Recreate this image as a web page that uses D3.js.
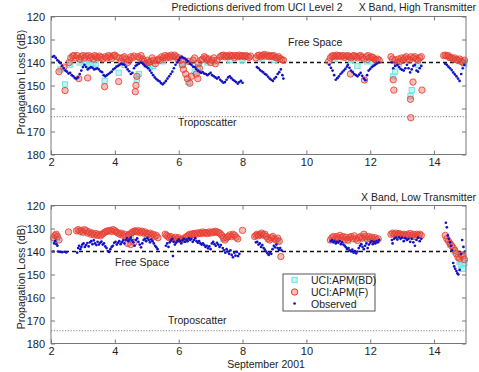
<!DOCTYPE html>
<html><head><meta charset="utf-8">
<script src="https://cdn.jsdelivr.net/npm/d3@7/dist/d3.min.js"></script>
<style>
html,body{margin:0;padding:0;background:#fff;}
svg text{font-family:Arial,"Liberation Sans",Helvetica,sans-serif;fill:#222;}
</style></head>
<body><svg id="c" width="479" height="372"></svg>
<script>
// ---------- DATA ----------
const xTicks = [2,4,6,8,10,12,14];
const yTicks = [120,130,140,150,160,170,180];
const seriesNames = ["UCI:APM(BD)","UCI:APM(F)","Observed"];
const titleMain = "Predictions derived from UCI Level 2";
const titleHigh = "X Band, High Transmitter";
const titleLow = "X Band, Low Transmitter";
const xLabel = "September 2001";
const yLabel = "Propagation Loss (dB)";
const freeSpaceLevel = [140, 140];
const tropoLevel = [163.5, 174.4];

const obsHigh = [[2.05,137.5],[2.1,137.2],[2.15,138],[2.2,139],[2.25,139.6],[2.3,140.3],[2.35,141.5],[2.4,142.5],[2.45,143.5],[2.5,144],[2.55,144.8],[2.6,144.5],[2.65,145.5],[2.7,146],[2.75,146.8],[2.8,147],[2.85,146.5],[2.9,145],[2.95,143.5],[3.0,142],[3.05,141],[3.1,142],[3.15,143],[3.2,142.5],[3.25,142],[3.3,142.3],[3.35,143],[3.4,142.8],[3.45,142.5],[3.5,143],[3.55,143.8],[3.6,144.2],[3.65,145.5],[3.7,146],[3.75,145.5],[3.8,145],[3.85,144.5],[3.9,144],[3.95,143],[4.0,142.5],[4.05,141.8],[4.1,141.5],[4.15,141],[4.2,140.5],[4.25,140.8],[4.3,141],[4.35,142],[4.4,143],[4.45,143.8],[4.5,145],[4.55,144.5],[4.6,142.5],[4.65,141.5],[4.7,141],[4.75,140.5],[4.8,140],[4.85,140.2],[4.9,140.8],[4.95,141.5],[5.0,142],[5.05,142.5],[5.1,143.5],[5.15,144.5],[5.2,145.5],[5.25,146.5],[5.3,147.2],[5.35,147.8],[5.4,148.2],[5.45,149],[5.5,149.5],[5.55,148.8],[5.6,148],[5.65,147],[5.7,146],[5.75,145],[5.8,144],[5.85,142.5],[5.9,141],[5.95,140],[6.0,139],[6.05,138],[6.1,137.5],[6.15,138],[6.2,138.3],[6.25,139],[6.3,139.5],[6.35,140.5],[6.4,141],[6.45,141.8],[6.5,142],[6.55,142.8],[6.6,143.5],[6.65,144],[6.7,144.5],[6.75,144.2],[6.8,144.8],[6.85,145],[6.9,145.5],[6.95,145],[7.0,144.5],[7.05,145.5],[7.1,146],[7.15,146.5],[7.2,147],[7.25,146.5],[7.3,147.5],[7.35,148.2],[7.4,148.8],[7.45,148.5],[7.5,147.5],[7.55,146.5],[7.6,146],[7.65,146.8],[7.7,147.5],[7.75,148],[7.8,148.5],[7.85,149.2],[7.9,148.5],[7.95,148],[8.0,148.8],
[8.45,142],[8.5,142.5],[8.55,143.3],[8.6,143.8],[8.65,144.3],[8.7,145],[8.75,145.4],[8.8,146.2],[8.85,147],[8.9,147.5],[8.95,148],[9.0,147],[9.05,146.3],[9.1,145],[9.15,144.2],[9.2,143],[9.25,145.5],[9.28,147],
[10.72,141],[10.77,142.3],[10.82,143.5],[10.87,145.5],[10.92,147.5],[10.97,146.8],[11.02,146],[11.07,145],[11.12,144.3],[11.17,143.5],[11.22,142.8],[11.27,141.8],[11.3,141],[11.35,142.3],[11.4,143.5],[11.45,144.2],[11.5,145],[11.55,145.5],[11.6,146],[11.65,145.3],[11.7,144.5],[11.75,145.8],[11.8,147],[11.85,147.7],[11.9,145.5],[11.95,143.5],[12.0,142.8],[12.05,142],[12.1,141.5],[12.15,141],[12.2,140.5],[12.27,140],
[12.68,140],[12.72,142.5],[12.78,141.5],[12.85,141],[12.9,142],[12.95,142.8],[13.0,143.2],[13.05,143.5],[13.1,142.5],[13.15,141],[13.2,142.5],[13.25,144.3],[13.3,143],[13.35,141.5],[13.4,141],[13.45,143.5],[13.5,144],[13.55,142.5],[13.6,141.5],
[14.35,140.5],[14.4,141],[14.45,141.8],[14.5,142.5],[14.55,143.3],[14.6,144.3],[14.65,145.2],[14.7,146],[14.75,147],[14.8,148],[14.85,145],[14.9,142.5],[14.95,141]];

const apmFHigh = [[2.25,144],[2.44,152.2],[2.4,142],[2.57,140],[2.62,138],[2.68,137.2],[2.72,137],[2.78,138],[2.82,137],[2.87,147],[2.9,138.5],[2.95,137.5],[3.0,137],[3.05,138],[3.1,137.2],[3.15,146.7],[3.18,137],[3.22,138],[3.27,137.5],[3.32,138.5],[3.37,137],[3.42,137.5],[3.47,138],[3.52,137.2],[3.57,137.8],[3.62,138.5],[3.68,150.5],[3.7,137.5],[3.75,138],[3.8,137],[3.85,137.5],[3.9,138.2],[3.95,137],[4.0,136.8],[4.05,137.5],[4.12,148.3],[4.15,138],[4.2,139.5],[4.25,138],[4.3,137.5],[4.35,138.5],[4.4,140],[4.45,139],[4.5,137.5],[4.55,138],[4.6,137.2],[4.64,152.7],[4.66,150],[4.69,146],[4.72,137.5],[4.78,138],[4.82,137],[4.87,138.5],[4.92,139.5],[4.97,140.5],[5.02,139],[5.07,140],[5.12,139.5],[5.17,138],[5.22,139],[5.27,140.5],[5.32,139],[5.37,138.5],[5.42,139],[5.47,137.5],[5.52,138],[5.57,137],[5.62,138],[5.67,137.2],[5.72,137.8],[5.77,136.8],[5.82,137.5],[5.87,136.8],[5.92,137.5],[5.97,138.5],[6.02,138],[6.07,139],[6.12,141],[6.15,143],[6.22,145],[6.27,147],[6.3,139.5],[6.35,149],[6.4,146],[6.45,139],[6.5,138],[6.55,145],[6.6,147],[6.62,140.5],[6.65,142.5],[6.7,139],[6.75,138.5],[6.8,137.5],[6.85,138],[6.9,139],[6.95,138.5],[7.0,140],[7.05,139],[7.1,138],[7.15,140.5],[7.2,139],[7.3,137.5],[7.35,137],[7.4,136.8],[7.45,137.5],[7.5,137],[7.55,137.5],[7.6,136.8],[7.65,137.2],[7.7,137],[7.75,137.8],[7.8,137],[7.85,137.5],[7.9,136.8],[7.95,137.2],[8.0,137],[8.05,137.5],[8.1,137],[8.15,137.3],[8.2,137.8],[8.25,137.2],
[8.42,138],[8.48,137],[8.53,136.8],[8.58,137.5],[8.63,137],[8.68,136.5],[8.73,137.2],[8.78,136.8],[8.83,137.5],[8.88,137],[8.93,137.3],[8.98,137],[9.03,137.8],[9.08,138],[9.13,137.5],[9.18,138.3],[9.23,138.8],[9.28,139],
[10.7,139.5],[10.75,138],[10.8,137.2],[10.85,137],[10.9,137.5],[10.95,136.8],[11.0,137.2],[11.05,137],[11.1,137.5],[11.15,137],[11.2,137.8],[11.25,137.2],[11.3,137],[11.35,137.5],[11.38,145],[11.4,138],[11.45,137.2],[11.5,137],[11.55,137.5],[11.6,138],[11.65,137.2],[11.7,137],[11.75,137.8],[11.8,138.5],[11.82,147.6],[11.88,137.5],[11.93,137],[11.98,138],[12.03,137.5],[12.08,137.8],[12.13,138.5],[12.18,139],[12.23,138.5],[12.28,139],
[12.65,137.5],[12.7,138.5],[12.72,147.5],[12.74,152],[12.78,139],[12.83,140],[12.88,138.5],[12.93,139.5],[12.98,138],[13.03,139],[13.08,138],[13.13,137.5],[13.18,138.5],[13.23,139],[13.26,156],[13.27,164],[13.28,137.5],[13.34,148.5],[13.35,138],[13.4,137.5],[13.45,138.5],[13.5,139],[13.55,138],[13.6,137.5],[13.62,152],
[14.3,137],[14.35,136.8],[14.4,137.2],[14.45,137],[14.5,137.8],[14.55,138],[14.6,138.5],[14.65,138],[14.7,138.8],[14.75,139],[14.8,138.5],[14.85,139.5],[14.9,140],[14.95,139]];

const apmBDHigh = [[2.44,149.5],[2.3,143],[2.6,141],[2.9,140],[3.1,140.5],[3.2,141],[3.3,140.8],[3.4,140.5],[3.68,148],[4.12,144.5],[4.3,141],[4.69,147.5],[4.75,145],[5.0,141],[5.1,142],[5.2,141.5],[5.5,139.5],[6.1,141],[6.3,148.5],[6.5,144],[6.6,142],[6.9,140],[7.1,139.5],[7.6,139],[8.0,139],[8.6,138.5],[9.0,139],[10.9,138.5],[11.4,139],[11.6,141.5],[11.9,139.5],[12.1,140],[12.72,146],[12.78,144],[12.9,140.5],[13.26,154.6],[13.3,152],[13.5,141],[14.5,138],[14.8,139.5],[14.9,139.5],[14.95,140.5]];

const obsLow = [[2.07,140],[2.1,136.5],[2.13,135.5],[2.17,136.8],[2.2,137.5],[2.22,140],[2.28,140.2],[2.35,140.3],[2.42,140.1],[2.48,140.4],[2.82,140.5],[2.85,138.5],[2.88,137.5],[2.92,139],[2.95,138],[2.98,137],[3.02,136.5],[3.06,138],[3.1,137.2],[3.14,136.3],[3.18,137.8],[3.22,136],[3.26,135.5],[3.3,136.8],[3.34,135.2],[3.38,136.5],[3.42,137.2],[3.46,135.8],[3.5,137],[3.54,136.2],[3.58,135.7],[3.62,137],[3.66,136.5],[3.7,137.8],[3.74,138.5],[3.78,139.8],[3.82,140.2],[3.86,139],[3.9,138],[3.94,137.5],[3.98,136.2],[4.02,135.8],[4.06,137],[4.1,136.2],[4.14,135.5],[4.18,136.8],[4.22,136],[4.26,135.2],[4.3,136.5],[4.34,135],[4.38,134.3],[4.42,135.5],[4.46,134.8],[4.5,134],[4.54,135.2],[4.58,136],[4.62,137.5],[4.66,135],[4.7,134.3],[4.74,135.8],[4.78,137],[4.82,138.2],[4.86,136.5],[4.9,135],[4.94,134.5],[4.98,135.5],[5.02,134.2],[5.06,135],[5.1,136],[5.14,134.8],[5.18,135.5],[5.22,136.5],[5.26,137.5],[5.3,138.2],[5.34,139],[5.6,137.5],[5.64,136.5],[5.68,138],[5.72,136],[5.76,135.2],[5.8,134.5],[5.82,142],[5.84,135.8],[5.88,137],[5.92,136.2],[5.96,135.5],[6.0,134.8],[6.04,135.5],[6.08,136.5],[6.12,135.2],[6.16,134.5],[6.2,135.8],[6.24,134.8],[6.28,135.5],[6.32,134.3],[6.36,135],[6.4,134.5],[6.44,135.8],[6.48,135],[6.52,134.2],[6.56,135.5],[6.6,136.2],[6.64,135.5],[6.68,136.5],[6.72,137],[6.76,136.5],[6.8,137.2],[6.84,138],[6.88,137.5],[6.92,138.6],[6.96,137.8],[7.0,139],[7.04,136.5],[7.08,135.8],[7.12,136.8],[7.16,137.5],[7.2,136.2],[7.24,137],[7.28,138],[7.32,137.2],[7.38,138.5],[7.42,139.5],[7.46,140.5],[7.5,139],[7.54,140],[7.58,141],[7.62,139.5],[7.66,141.5],[7.7,142.5],[7.74,140.5],[7.78,141.8],[7.82,140.2],[7.86,142],[7.9,141],
[8.42,136],[8.46,135.8],[8.5,137],[8.54,136.5],[8.58,138],[8.62,137.2],[8.66,138.5],[8.7,139.2],[8.74,140],[8.78,140.8],[8.82,141.5],[8.86,140.5],[8.9,141],[8.94,139],[8.98,137.5],[9.02,138.2],[9.06,137],[9.1,138.5],[9.14,139.3],[9.18,138.5],[9.22,139.5],
[10.76,135.5],[10.8,135],[10.84,136],[10.88,135.5],[10.92,136.5],[10.96,135.8],[11.0,136.2],[11.04,135.5],[11.08,136.8],[11.12,136],[11.16,137],[11.2,137.5],[11.24,138.2],[11.28,139],[11.32,138.5],[11.36,139.5],[11.4,140],[11.44,139.2],[11.48,140.5],[11.52,139.8],[11.56,140.8],[11.6,140],[11.64,138.5],[11.68,137.5],[11.72,136.8],[11.76,138],[11.8,139],[11.84,137.5],[11.88,136.5],[11.92,138.5],[11.96,137],[12.0,136.2],[12.04,135.5],[12.08,136.8],[12.12,135.8],[12.16,136.5],[12.2,135.5],[12.24,136],[12.28,135],
[12.68,135],[12.7,136.5],[12.75,134.5],[12.8,134],[12.85,134.8],[12.9,133.8],[12.95,134.5],[13.0,134],[13.05,135.5],[13.1,134.2],[13.15,135],[13.2,134.5],[13.25,135.8],[13.3,134.5],[13.35,136],[13.4,137.5],[13.45,135],[13.5,134],[13.55,135.5],[13.6,134.5],
[14.37,127.5],[14.4,129.5],[14.43,133],[14.46,134.5],[14.5,136],[14.53,137.5],[14.56,139.5],[14.6,145],[14.63,146.5],[14.66,147.5],[14.7,148.5],[14.73,149.5],[14.76,150],[14.8,148],[14.85,141],[14.88,135],[14.92,138],[14.96,140]];

const apmFLow = [[2.08,134],[2.12,133],[2.16,132.5],[2.2,133.5],[2.25,135],[2.55,131.5],[2.8,131],[2.85,130.5],[2.9,131.2],[2.95,130.8],[3.0,131.5],[3.05,130.5],[3.1,131],[3.15,132],[3.2,131.5],[3.25,132.5],[3.3,132],[3.35,132.8],[3.4,132.2],[3.45,133],[3.5,132.5],[3.55,133.2],[3.6,132.5],[3.65,132],[3.7,131.5],[3.75,131.2],[3.8,131],[3.85,130.8],[3.9,131.3],[3.95,130.5],[4.0,131],[4.05,131.5],[4.1,132],[4.15,132.5],[4.2,132],[4.25,133],[4.3,132.5],[4.35,133.5],[4.4,136.5],[4.42,133],[4.45,132.5],[4.5,137],[4.52,132],[4.55,131.5],[4.6,136],[4.62,131.2],[4.65,131],[4.7,131.5],[4.75,131],[4.8,131.8],[4.85,131.2],[4.9,132],[4.95,131.5],[5.0,132.2],[5.05,132.5],[5.1,132],[5.15,133],[5.2,132.5],[5.25,133.5],[5.3,133],[5.35,134],[5.58,132.5],[5.62,133],[5.66,133.5],[5.7,134],[5.75,133.5],[5.8,134.2],[5.85,134.5],[5.9,133.8],[5.95,134.5],[6.0,134],[6.05,134.8],[6.1,135],[6.15,134.5],[6.2,134],[6.25,133.5],[6.3,133],[6.35,132.5],[6.4,132.8],[6.45,132.2],[6.5,132.5],[6.55,132],[6.6,132.3],[6.65,131.8],[6.7,132.2],[6.75,131.5],[6.8,132],[6.85,131.8],[6.9,132.2],[6.95,131.5],[7.0,132],[7.05,131.5],[7.1,131.8],[7.15,131.2],[7.2,131.5],[7.25,131.8],[7.3,132.2],[7.35,133],[7.4,134],[7.45,135],[7.5,134],[7.55,133.5],[7.6,132.8],[7.65,133.5],[7.7,132.5],[7.75,133],[7.8,133.8],[7.85,134.5],[8.0,130.8],
[8.38,133.5],[8.42,133],[8.46,132.5],[8.5,133.2],[8.55,132.5],[8.6,132],[8.65,132.8],[8.7,132.5],[8.75,133.5],[8.8,134.5],[8.85,135],[8.9,134],[8.95,133.5],[9.0,134.5],[9.05,135],[9.1,134.2],[9.15,135.5],[9.2,142.2],
[10.75,135],[10.8,134],[10.85,133.5],[10.9,134.5],[10.95,133.5],[11.0,134.2],[11.05,133],[11.1,134],[11.15,133.5],[11.2,134.8],[11.25,133.8],[11.3,135],[11.35,134],[11.4,133.5],[11.45,134.5],[11.5,133.2],[11.55,134.5],[11.6,135.2],[11.65,134],[11.7,133.5],[11.75,134.2],[11.8,132.5],[11.85,133.5],[11.9,134.5],[11.95,133.5],[12.0,134.5],[12.05,133.8],[12.1,134.8],[12.15,134],[12.2,135],[12.25,134.5],
[12.65,132.5],[12.7,132],[12.75,132.5],[12.8,132],[12.85,132.8],[12.9,132.2],[12.95,132.5],[13.0,133],[13.05,132.5],[13.1,133.2],[13.15,132.5],[13.2,133],[13.25,132.2],[13.3,133],[13.35,132.5],[13.4,133.5],[13.45,132.5],[13.5,133],[13.55,132.5],[13.6,133],
[14.35,133],[14.4,134.5],[14.45,135.5],[14.5,136.5],[14.55,137.5],[14.6,138.5],[14.65,139.5],[14.7,141],[14.75,142.5],[14.8,143],[14.85,141.5],[14.9,142],[14.95,143.5]];

const apmBDLow = [[2.1,135],[2.2,134],[3.0,132],[4.5,134],[5.0,133.5],[6.2,135],[7.4,134.5],[8.6,133],[9.1,135.5],[11.3,135.5],[11.8,134],[12.9,133],[13.4,133.5],[14.5,137],[14.65,140],[14.8,144.5],[14.85,146],[14.9,147.5],[14.95,145]];

// ---------- STYLE ----------
const FONT = 'Arial,"Liberation Sans",Helvetica,sans-serif';
const cBD = {stroke:"#6fe3e3", fill:"rgba(150,240,240,0.6)"};
const cF = {stroke:"#e63a2c", fill:"rgba(236,80,70,0.38)"};
const cObs = "#1212c4";

const svg = d3.select("#c");
const x = d3.scaleLinear().domain([2,15]).range([51,466]);

const panels = [
  {top:16.5, bottom:154.5, obs:obsHigh, f:apmFHigh, bd:apmBDHigh, fs:freeSpaceLevel[0], tropo:tropoLevel[0],
   title:titleHigh, titleY:11, fsLabel:[288,46], trLabel:[178,126], yLabelY:82},
  {top:205.5, bottom:343.5, obs:obsLow, f:apmFLow, bd:apmBDLow, fs:freeSpaceLevel[1], tropo:tropoLevel[1],
   title:titleLow, titleY:201, fsLabel:[115,266], trLabel:[168,324], yLabelY:277}
];

panels.forEach((p,i) => {
  const y = d3.scaleLinear().domain([120,180]).range([p.top,p.bottom]);
  const g = svg.append("g");

  // reference lines
  g.append("line").attr("x1",x(2)).attr("x2",x(15)).attr("y1",y(p.fs)).attr("y2",y(p.fs))
    .attr("stroke","#111").attr("stroke-width",1.3).attr("stroke-dasharray","4,3");
  g.append("line").attr("x1",x(2)).attr("x2",x(15)).attr("y1",y(p.tropo)).attr("y2",y(p.tropo))
    .attr("stroke","#999").attr("stroke-width",1.2).attr("stroke-dasharray","1.2,1.6");

  // BD markers (squares)
  g.selectAll(".bd").data(p.bd).join("rect")
    .attr("x",d=>x(d[0])-2.6).attr("y",d=>y(d[1])-2.6).attr("width",5.2).attr("height",5.2)
    .attr("fill",cBD.fill).attr("stroke",cBD.stroke).attr("stroke-width",1);
  // F markers (circles)
  g.selectAll(".f").data(p.f).join("circle")
    .attr("cx",d=>x(d[0])).attr("cy",d=>y(d[1])).attr("r",3.2)
    .attr("fill",cF.fill).attr("stroke",cF.stroke).attr("stroke-opacity",0.8).attr("stroke-width",1);
  // Observed dots
  g.selectAll(".o").data(p.obs).join("circle")
    .attr("cx",d=>x(d[0])).attr("cy",d=>y(d[1])).attr("r",1.35)
    .attr("fill",cObs);

  // axes box
  g.append("rect").attr("x",x(2)).attr("y",p.top).attr("width",x(15)-x(2)).attr("height",p.bottom-p.top)
    .attr("fill","none").attr("stroke","#777").attr("stroke-width",1);

  const styleAxis = sel => {
    sel.select(".domain").remove();
    sel.selectAll(".tick line").attr("stroke","#777");
    sel.selectAll(".tick text").attr("font-family",FONT).attr("font-size",11).attr("fill","#222");
  };
  g.append("g").attr("transform",`translate(0,${p.bottom})`)
    .call(d3.axisBottom(x).tickValues(xTicks).tickSizeInner(-4).tickSizeOuter(0).tickPadding(4).tickFormat(d3.format("d")))
    .call(styleAxis);
  g.append("g").attr("transform",`translate(0,${p.top})`)
    .call(d3.axisTop(x).tickValues(xTicks).tickSizeInner(-4).tickSizeOuter(0).tickFormat(""))
    .call(styleAxis);
  g.append("g").attr("transform",`translate(${x(2)},0)`)
    .call(d3.axisLeft(y).tickValues(yTicks).tickSizeInner(-4).tickSizeOuter(0).tickPadding(6).tickFormat(d3.format("d")))
    .call(styleAxis);
  g.append("g").attr("transform",`translate(${x(15)},0)`)
    .call(d3.axisRight(y).tickValues(yTicks).tickSizeInner(-4).tickSizeOuter(0).tickFormat(""))
    .call(styleAxis);

  // texts
  g.append("text").attr("x",476).attr("y",p.titleY).attr("text-anchor","end")
    .attr("font-size",10.5).text(p.title);
  g.append("text").attr("x",p.fsLabel[0]).attr("y",p.fsLabel[1]).attr("font-size",10.5).text("Free Space");
  g.append("text").attr("x",p.trLabel[0]).attr("y",p.trLabel[1]).attr("font-size",10.5).text("Troposcatter");
  g.append("text").attr("transform",`translate(25,${p.yLabelY}) rotate(-90)`).attr("text-anchor","middle")
    .attr("font-size",10.5).text(yLabel);
});

svg.append("text").attr("x",257).attr("y",11).attr("text-anchor","middle").attr("font-size",10.5).text(titleMain);
svg.append("text").attr("x",266).attr("y",368).attr("text-anchor","middle").attr("font-size",10.5).text(xLabel);

// legend
const lg = svg.append("g").attr("transform","translate(283,274)");
lg.append("rect").attr("width",92).attr("height",37).attr("fill","#fff").attr("stroke","#555").attr("stroke-width",1);
const ly = [6, 18, 29.5];
lg.append("rect").attr("x",9).attr("y",ly[0]-2.6).attr("width",5.2).attr("height",5.2)
  .attr("fill",cBD.fill).attr("stroke",cBD.stroke);
lg.append("circle").attr("cx",11.6).attr("cy",ly[1]).attr("r",3.2).attr("fill",cF.fill).attr("stroke",cF.stroke);
lg.append("circle").attr("cx",11.6).attr("cy",ly[2]).attr("r",1.35).attr("fill",cObs);
seriesNames.forEach((n,i)=>{
  lg.append("text").attr("x",28).attr("y",ly[i]+4).attr("font-size",10.5).text(n);
});
</script></body></html>
